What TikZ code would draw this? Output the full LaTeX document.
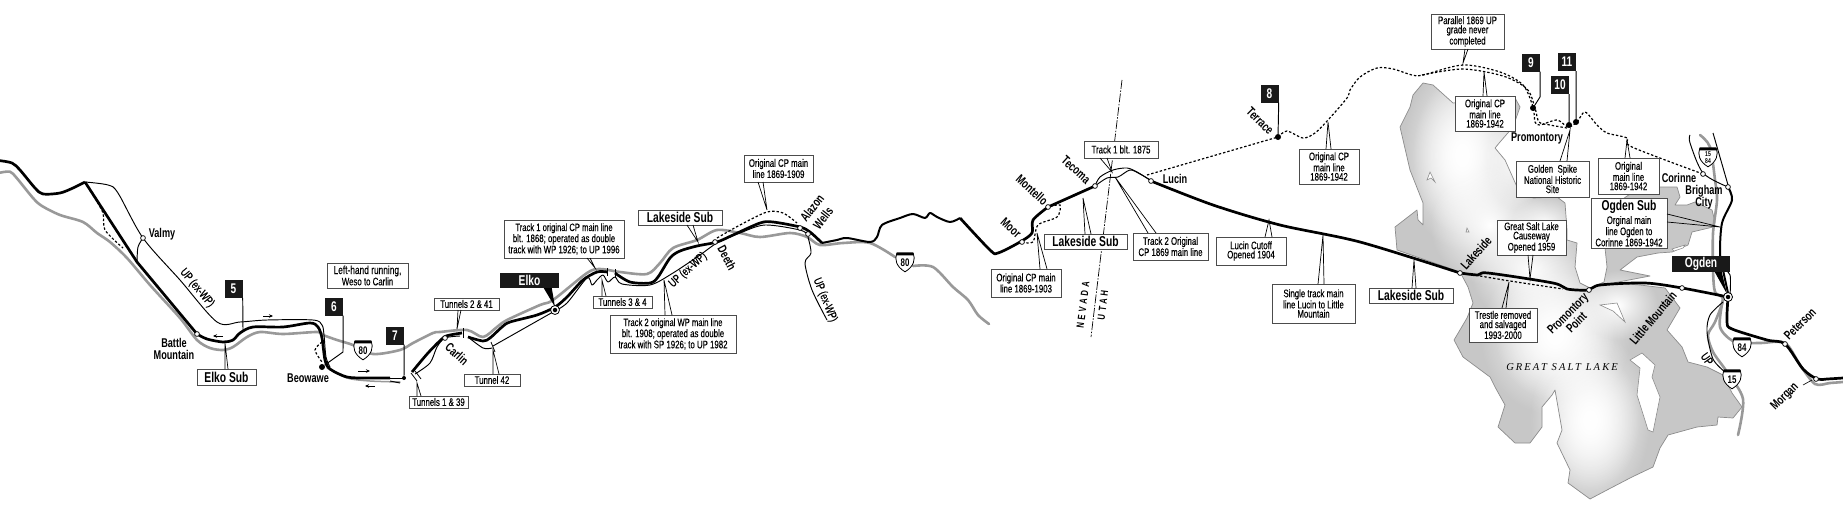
\documentclass[tikz,border=0pt]{standalone}
\usepackage{fontspec}
\usetikzlibrary{arrows.meta,fadings}
\setmainfont{Liberation Sans}
\newfontfamily\cf[FakeStretch=.72,UprightFeatures={FakeBold=.3}]{Liberation Sans}
\newfontfamily\spf[LetterSpace=30,FakeStretch=.72]{Liberation Sans}
\newfontfamily\lakef[LetterSpace=20]{Liberation Serif}
\tikzfading[name=softc, inner color=transparent!0, outer color=transparent!100]
\definecolor{roadgray}{gray}{.6}
\definecolor{lakegray}{gray}{.78}
\tikzset{
  road/.style={draw=roadgray,line width=2.6,line cap=round,line join=round},
  mainl/.style={draw=black,line width=2.7,line join=round},
  medl/.style={draw=black,line width=2,line join=round},
  thinl/.style={draw=black,line width=.95,line join=round},
  dashl/.style={draw=black,line width=1.2,dash pattern=on 2.4pt off 2pt},
  ptr/.style={draw=black,line width=.7},
  note/.style={draw=black!70,fill=white,line width=1,inner sep=0,outer sep=0,align=center,
    font=\cf\fontsize{10.9}{9.2}\selectfont},
  subl/.style={note,font=\cf\bfseries\fontsize{14.3}{15}\selectfont},
  flagb/.style={fill=black!90,text=white,inner sep=0,minimum size=18,font=\cf\bfseries\fontsize{14}{14}\selectfont},
  cityb/.style={fill=black!90,text=white,inner sep=0,font=\cf\bfseries\fontsize{14.2}{15}\selectfont},
  st/.style={circle,draw=black,fill=white,line width=.7,inner sep=0,minimum size=4.8},
  blk/.style={circle,fill=black,inner sep=0,minimum size=6},
  lab/.style={inner sep=0,font=\cf\bfseries\fontsize{12.7}{12.5}\selectfont,align=center},
  smalll/.style={inner sep=0,font=\cf\fontsize{12}{12}\selectfont},
  tipar/.style={draw=black,line width=.6,-{Stealth[length=4pt,width=3.5pt]}},
  shieldp/.pic={
    \path[draw=black,fill=white,line width=.8] (-8.3,-8.5) -- (8.3,-8.5) .. controls (10.5,-3) and (9,4.5) .. (0,9.8) .. controls (-9,4.5) and (-10.5,-3) .. (-8.3,-8.5) -- cycle;
    \fill[black] (-8.3,-9.6) -- (8.3,-9.6) -- (8.6,-6.6) -- (-8.6,-6.6) -- cycle;
  }
}
\newcommand\nbox[7][note]{\node[#1,minimum width={(#5-#3)*1pt},minimum height={(#6-#4)*1pt}] (#2) at ({(#3+#5)/2},{(#4+#6)/2}) {#7};}
\newcommand\ptrdn[4]{\draw[ptr] ([xshift=#2pt]#1.south west) -- (#4) -- ([xshift=#3pt]#1.south west);}
\newcommand\ptrup[4]{\draw[ptr] ([xshift=#2pt]#1.north west) -- (#4) -- ([xshift=#3pt]#1.north west);}
\newcommand\shieldat[4]{\pic at (#2,#3) {shieldp};\node[inner sep=0,align=center,font=\cf\bfseries\fontsize{#4}{6.5}\selectfont] (#1) at (#2,#3+.6) {\shieldtext};}
\newcommand\curve[2]{\draw[#1] plot[smooth,tension=.5] coordinates {#2};}
\begin{document}
\begin{tikzpicture}[x=1pt,y=-1pt]
\useasboundingbox (0,0) rectangle (1843,522);
\fill[white] (0,0) rectangle (1843,522);

% ---------- lake
\def\lakepath{(1413,95) -- (1423,83) -- (1433,85) -- (1453,103) -- (1490,100) -- (1515,98) -- (1520,107) -- (1513,127) -- (1500,142) -- (1495,148) -- (1505,160) -- (1517,187) -- (1533,198) -- (1557,197) -- (1565,203) -- (1567,230) -- (1567,240) -- (1577,243) -- (1575,267) -- (1580,283) -- (1590,288) -- (1604,282) -- (1607,267) -- (1605,248) -- (1600,215) -- (1640,187) -- (1660,187) -- (1677,187) -- (1680,197) -- (1675,205) -- (1687,205) -- (1695,202) -- (1712,210) -- (1715,222) -- (1713,227) -- (1692,232) -- (1688,245) -- (1672,252) -- (1658,253) -- (1637,257) -- (1620,270) -- (1650,276) -- (1613,283) -- (1640,285) -- (1665,288) -- (1680,308) -- (1667,330) -- (1682,347) -- (1688,362) -- (1707,367) -- (1723,375) -- (1732,393) -- (1742,407) -- (1733,418) -- (1718,417) -- (1717,425) -- (1697,427) -- (1668,435) -- (1660,448) -- (1653,467) -- (1632,477) -- (1607,490) -- (1590,499) -- (1568,483) -- (1570,470) -- (1557,443) -- (1562,430) -- (1555,390) -- (1552,395) -- (1542,407) -- (1542,427) -- (1530,443) -- (1515,443) -- (1498,427) -- (1505,405) -- (1495,387) -- (1490,377) -- (1463,357) -- (1454,340) -- (1467,318) -- (1473,303) -- (1468,287) -- (1460,272) -- (1397,250) -- (1395,227) -- (1417,210) -- (1418,220) -- (1423,225) -- (1423,203) -- (1410,170) -- (1400,127) -- (1410,107) -- cycle}
\fill[lakegray] \lakepath;
\begin{scope}
  \clip \lakepath;
  \foreach \cx/\cy/\rx/\ry in {1462/155/60/95,1462/155/50/80,1490/225/60/60,1530/270/60/55,1555/335/75/80,1555/335/60/65,1590/420/60/90,1590/420/50/70,1618/305/40/35,1515/160/30/50,1545/225/35/30}
    {\fill[white,path fading=softc] (\cx,\cy) ellipse [x radius=\rx,y radius=\ry];}
\end{scope}
\draw[black!45,line width=.7,line join=round] \lakepath;
\path[fill=white,draw=black!45,line width=.6] (1630,360) -- (1642,353) -- (1655,365) -- (1652,377) -- (1660,397) -- (1653,432) -- (1648,430) -- (1637,395) -- (1640,368) -- cycle;
\path[fill=white,draw=black!45,line width=.6] (1600,305) -- (1617,303) -- (1625,322) -- (1613,311) -- cycle;
\path[fill=white,draw=black!45,line width=.6] (1672,249) -- (1685,245) -- (1683,248) -- (1674,251) -- cycle;
\path[fill=white,draw=black!45,line width=.6] (1427,180) -- (1430,172) -- (1435,182) -- (1431,178) -- cycle;
\path[fill=white,draw=black!45,line width=.6] (1466,232) -- (1467,228) -- (1469,232) -- cycle;

% ---------- state line
\draw[black,line width=.7,dash pattern=on 9pt off 1.5pt on 1.5pt off 1.5pt] (1122,80) -- (1091,337);

% ---------- highways
\curve{road}{(0,172.7) (10,171.7) (16.7,178) (33,198) (42,206) (60,215) (83,222) (97,233) (110,242) (127,258) (150,285) (180,318) (197,340) (210,348) (223,350) (233,347) (247,337) (260,332) (283,334) (317,332) (323,335) (337,340) (353,345) (373,354) (400,350) (413,343) (433,333) (440,332) (467,330) (483,337) (497,327) (507,320) (540,305) (553,300) (587,273) (600,269) (620,272) (647,274) (660,263) (673,248) (697,240) (717,230) (740,233) (760,237) (790,233) (807,237) (820,245) (843,243) (870,243) (895,257)}
\curve{road}{(913,266) (933,267) (953,287) (968,300) (978,315) (989,324)}
\curve{road,line width=1.5}{(327,368) (347,378) (370,381) (400,382)}
\curve{road}{(1700,135) (1710,147) (1715,180) (1717,200) (1713,233) (1713,270) (1715,292) (1723,299) (1715,322) (1708,335) (1713,352) (1727,372) (1743,399) (1738,435)}
\curve{road}{(1723,299) (1720,327) (1735,342) (1760,343) (1785,343) (1800,365) (1815,384) (1830,383) (1843,382)}

% ---------- thin tracks
\curve{thinl}{(85,182) (108,185) (118,193) (143,238) (180,280) (217,322) (240,322) (267,320) (313,320) (322,325) (324,335) (326,357) (330,367)}
\curve{thinl}{(143,238) (138,247) (137,262)}
\curve{thinl}{(390,381) (400,383)}
\curve{thinl}{(415,374) (430,363) (437,347) (445,338) (460,336)}
\curve{thinl}{(468,337) (483,348) (492,348)}
\draw[thinl] (493,346) -- (553,312);
\curve{thinl}{(553,312) (567,303) (587,278) (592,285) (597,280) (603,275) (608,282) (615,277) (622,284) (650,285) (673,273) (700,255) (717,243) (740,233) (765,225) (800,230) (808,235)}
\curve{thinl}{(808,237) (811,253) (805,263) (812,290) (827,320)}
\curve{thinl}{(1095,186) (1100,177) (1113,170) (1127,168) (1137,172) (1150,180)}
\curve{thinl}{(1095,186) (1107,178) (1118,177) (1130,170) (1140,174) (1150,180)}
\curve{thinl}{(1690,135) (1690,143) (1703,173) (1728,187)}
\curve{thinl}{(1713,133) (1728,185)}
\curve{thinl}{(1723,302) (1710,315) (1707,332) (1713,359) (1725,372)}

% ---------- dashed
\curve{dashl}{(93,195) (103,213) (105,230) (123,248)}
\curve{dashl}{(322,342) (315,350) (322,362)}
\curve{dashl}{(717,238) (740,225) (767,212) (783,213) (797,223)}
\curve{dashl}{(1022,242) (1033,242) (1038,225) (1057,217) (1060,205) (1049,207)}
\draw[dashl] (1147,175) -- (1278,137);
\curve{dashl}{(1278,137) (1287,131) (1303,138) (1315,133) (1328,120) (1347,98) (1350,90) (1360,77) (1377,68) (1393,69) (1412,75) (1423,75) (1463,65) (1500,72) (1523,85) (1533,107) (1535,122) (1540,125) (1557,120) (1568,127) (1577,122) (1585,112) (1597,125) (1607,133) (1627,138) (1632,147) (1703,174)}
\curve{dashl}{(1422,75) (1463,69) (1503,76) (1527,89) (1535,108) (1539,122) (1550,125) (1567,128)}
\curve{dashl}{(1480,276) (1510,281) (1563,289)}

% ---------- main line
\curve{mainl}{(0,160.7) (12,163) (20,170) (35,188) (43,194) (60,193) (73,188) (85,182)}
\draw[mainl] (85,182) -- (137,262) -- (197,334);
\curve{mainl}{(197,334) (207,339) (223,342) (233,340) (240,333) (253,327) (283,327) (310,323) (318,327) (322,338) (325,360) (330,369) (347,377) (367,378) (390,378)}
\draw[mainl,line width=1] (390,378) -- (405,378);
\curve{mainl}{(412,372) (428,353) (443,338) (450,335) (462,333)}
\curve{mainl}{(468,337) (483,341) (490,338) (502,327) (510,322) (537,315) (555,307) (567,297) (583,280) (597,272) (607,272)}
\curve{mainl}{(615,273) (630,282) (650,283) (658,277) (670,258) (680,251) (697,246) (717,242) (733,235) (760,223) (773,222) (800,227) (810,232) (822,243)}
\curve{medl}{(822,243) (837,240) (847,238) (870,242) (877,237) (882,225) (900,218) (913,214) (925,218) (930,213) (937,217) (950,222) (960,218)}
\curve{mainl}{(960,218) (990,250) (998,253) (1020,242) (1032,233) (1033,220) (1048,207)}
\draw[mainl] (1048,207) -- (1095,186);
\curve{mainl}{(1151,181) (1213,205) (1280,225) (1360,242) (1460,273)}
\curve{mainl}{(1460,273) (1478,275) (1488,273) (1553,283) (1567,289) (1588,290) (1600,285) (1645,283) (1682,288) (1728,297)}
\curve{medl}{(1728,187) (1732,200) (1722,223) (1720,253) (1723,270) (1728,293)}
\curve{thinl}{(1722,268) (1730,275) (1730,295)}
\curve{mainl}{(1728,297) (1727,322) (1732,329) (1767,340) (1785,344) (1803,369) (1817,379) (1827,379) (1843,378)}

% ---------- tunnel ticks
\draw[black,line width=.8] (411,373) -- (417,381) (415,371) -- (421,379);
\draw[black,line width=.8] (463,328) -- (463,338);
\draw[black,line width=.8] (491,342) -- (495,352);
\draw[black,line width=.8] (607,268) -- (607,276) (615,269) -- (615,277);

% ---------- direction arrows
\draw[tipar] (263,316) -- (273,316);
\draw[tipar] (223,336) -- (213,336);
\draw[tipar] (358,371) -- (370,371);
\draw[tipar] (375,386) -- (365,386);

% ---------- shields
\def\shieldtext{80}\shieldat{sa}{363}{350}{11}
\def\shieldtext{80}\shieldat{sb}{905}{262}{11}
\def\shieldtext{84}\shieldat{sc}{1742}{347}{11}
\def\shieldtext{15}\shieldat{sd}{1732}{379}{11}
\def\shieldtext{15\\84}\shieldat{se}{1708}{157}{7}

% ---------- pointer tips
\coordinate (tElkoSub) at (225,343);
\coordinate (tT139) at (417,383);
\coordinate (tT241) at (457,329);
\coordinate (tT42) at (493,350);
\coordinate (tT34) at (602,280);
\coordinate (tTk1) at (595,268);
\coordinate (tTk2) at (664,280);
\coordinate (tLk1) at (698,242);
\coordinate (tCP09) at (767,210);
\coordinate (tCP03) at (1037,233);
\coordinate (tLk2) at (1083,198);
\coordinate (tBlt) at (1112,172);
\coordinate (tOrig) at (1115,177);
\coordinate (tCut) at (1269,220);
\coordinate (tSing) at (1323,235);
\coordinate (tCP42a) at (1328,122);
\coordinate (tLk3) at (1414,260);
\coordinate (tTres) at (1509,282);
\coordinate (tCau) at (1530,279);
\coordinate (tCP42b) at (1484,72);
\coordinate (tPar) at (1463,63);
\coordinate (tGold) at (1570,130);
\coordinate (tMain) at (1627,140);
\coordinate (tOgd) at (1720,227);
\coordinate (tElko) at (555,307);
\coordinate (tOgden) at (1727,294);
\coordinate (t5) at (243,330);
\coordinate (b6) at (343,352);
\coordinate (b9) at (1540,97);

% ---------- boxes
\nbox[subl]{elkosub}{197}{369}{256}{385}{Elko Sub}
\nbox{lefthand}{327}{263}{408}{288}{\fontsize{11.6}{9.2}\selectfont Left-hand running,\\Weso to Carlin}
\nbox{t139}{409}{396}{468}{408}{Tunnels 1 \& 39}
\nbox{t241}{434}{298}{499}{310}{Tunnels 2 \& 41}
\nbox{t42}{464}{374}{520}{386}{Tunnel 42}
\nbox{t34}{593}{296}{652}{308}{Tunnels 3 \& 4}
\nbox{track1}{504}{220}{624}{258}{\fontsize{10.6}{10.2}\selectfont Track 1 original CP main line\\blt. 1868; operated as double\\track with WP 1926; to UP 1996}
\nbox{track2}{610}{315}{736}{353}{\fontsize{10.6}{10.2}\selectfont Track 2 original WP main line\\blt. 1908; operated as double\\track with SP 1926; to UP 1982}
\nbox[subl]{lakesub1}{638}{210}{722}{225}{Lakeside Sub}
\nbox{cp09}{744}{155}{813}{182}{Original CP main\\line 1869-1909}
\nbox{cp03}{991}{269}{1061}{297}{Original CP main\\line 1869-1903}
\nbox[subl]{lakesub2}{1044}{234}{1127}{249}{Lakeside Sub}
\nbox{blt}{1084}{141}{1158}{158}{Track 1 blt. 1875}
\nbox{origcp}{1133}{233}{1208}{260}{Track 2 Original\\CP 1869 main line}
\nbox{cutoff}{1216}{237}{1286}{265}{Lucin Cutoff\\Opened 1904}
\nbox{single}{1272}{284}{1355}{323}{Single track main\\line Lucin to Little\\Mountain}
\nbox{cp42a}{1299}{149}{1359}{184}{Original CP\\main line\\1869-1942}
\nbox[subl]{lakesub3}{1369}{288}{1453}{303}{Lakeside Sub}
\nbox{trestle}{1469}{308}{1537}{342}{Trestle removed\\and salvaged\\1993-2000}
\nbox{causeway}{1497}{220}{1566}{255}{Great Salt Lake\\Causeway\\Opened 1959}
\nbox{cp42b}{1455}{96}{1515}{131}{Original CP\\main line\\1869-1942}
\nbox{parallel}{1431}{14}{1504}{49}{Parallel 1869 UP\\grade never\\completed}
\nbox{golden}{1516}{161}{1589}{197}{Golden\ \ Spike\\National Historic\\Site}
\nbox{mainbox}{1598}{158}{1659}{194}{Original\\main line\\1869-1942}
\nbox{ogdensub}{1591}{198}{1667}{248}{{\cf\bfseries\fontsize{14.3}{15}\selectfont Ogden Sub}\\[2pt]Orginal main\\line Ogden to\\Corinne 1869-1942}

% ---------- pointers
\ptrup{elkosub}{28}{31}{tElkoSub}
\ptrup{t139}{8}{12}{tT139}
\ptrdn{t241}{24}{27}{tT241}
\ptrup{t42}{29}{35}{tT42}
\ptrup{t34}{9}{13}{tT34}
\ptrdn{track1}{83}{86}{tTk1}
\ptrup{track2}{55}{62}{tTk2}
\ptrdn{lakesub1}{49}{55}{tLk1}
\ptrdn{cp09}{14}{19}{tCP09}
\ptrup{cp03}{49}{56}{tCP03}
\ptrup{lakesub2}{41}{47}{tLk2}
\ptrdn{blt}{16}{23}{tBlt}
\ptrup{origcp}{15}{23}{tOrig}
\ptrup{cutoff}{49}{56}{tCut}
\ptrup{single}{46}{52}{tSing}
\ptrup{cp42a}{27}{32}{tCP42a}
\ptrup{lakesub3}{43}{47}{tLk3}
\ptrup{trestle}{33}{37}{tTres}
\ptrdn{causeway}{31}{36}{tCau}
\ptrup{cp42b}{28}{32}{tCP42b}
\ptrdn{parallel}{34}{37}{tPar}
\ptrup{golden}{44}{51}{tGold}
\ptrup{mainbox}{27}{32}{tMain}
\draw[ptr] ([yshift=-16pt]ogdensub.north east) -- (tOgd) -- ([yshift=-24pt]ogdensub.north east);

% ---------- cities
\nbox[cityb]{elko}{500}{273}{559}{288}{Elko}
\fill[black] ([xshift=44pt]elko.south west) -- (tElko) -- ([xshift=52pt]elko.south west) -- cycle;
\nbox[cityb]{ogden}{1672}{256}{1730}{272}{Ogden}
\fill[black] ([xshift=43pt]ogden.south west) -- (tOgden) -- ([xshift=50pt]ogden.south west) -- cycle;

% ---------- stations
\node[st] (valmy) at (143,238) {};
\node[st] (battle) at (197,334) {};
\node[st] (carlin) at (445,338) {};
\node[st] (deeth) at (715,242) {};
\node[st] (alazon) at (800,228) {};
\node[st] (wells) at (808,234) {};
\node[st] (moor) at (1022,242) {};
\node[st] (montello) at (1048,207) {};
\node[st] (tecoma) at (1095,186) {};
\node[st] (lucin) at (1151,181) {};
\node[st] (lakeside) at (1460,273) {};
\node[st] (prompt) at (1589,290) {};
\node[st] (little) at (1682,288) {};
\node[st] (corinne) at (1703,174) {};
\node[st] (brigham) at (1728,187) {};
\node[st] (peterson) at (1785,344) {};
\node[st] (morganst) at (1816,379) {};
\node[blk] (beowawe) at (322,367) {};
\node[blk,minimum size=4] (tun7) at (404,378) {};
\node[blk] (terrace) at (1278,137) {};
\node[blk] (prom9) at (1533,108) {};
\node[blk] (prom10) at (1569,125) {};
\node[blk] (prom11) at (1576,122) {};
\node[circle,draw=black,fill=white,line width=.8,inner sep=0,minimum size=9] (elkost) at (555,310) {};
\node[blk,minimum size=4.5] (elkodot) at (555,310) {};
\node[circle,draw=black,fill=white,line width=.8,inner sep=0,minimum size=9] (ogdenst) at (1728,297) {};
\node[blk,minimum size=4.5] (ogdendot) at (1728,297) {};

% ---------- flags
\node[flagb] (n5) at (233.5,289) {5};
\node[flagb] (n6) at (334,306.5) {6};
\node[flagb] (n7) at (395,335.5) {7};
\node[flagb] (n8) at (1269.5,93.5) {8};
\node[flagb] (n9) at (1531,62.5) {9};
\node[flagb] (n10) at (1560,85) {10};
\node[flagb] (n11) at (1567,62) {11};
\draw[thinl] (n5.south east) -- (t5);
\draw[thinl] (n6.south east) -- (b6) -- (beowawe);
\draw[thinl] (n7.south east) -- (tun7);
\draw[thinl] (n8.south east) -- (terrace);
\draw[thinl] (n9.south east) -- (b9) -- (prom9);
\draw[thinl] (n10.south east) -- (prom10);
\draw[thinl] (n11.south east) -- (prom11);

% ---------- labels
\node[lab] (lValmy) at (162,234) {Valmy};
\node[lab] (lBattle) at (174,349) {Battle\\Mountain};
\node[lab] (lBeo) at (308,378) {Beowawe};
\node[lab,rotate=-42] (lCarlin) at (457,354) {Carlin};
\node[lab,rotate=-62] (lDeeth) at (727,258) {Deeth};
\node[lab,rotate=52] (lAlazon) at (812,208) {Alazon};
\node[lab,rotate=52] (lWells) at (823,218) {Wells};
\node[lab,rotate=-42] (lMoor) at (1011,228) {Moor};
\node[lab,rotate=-42] (lMontello) at (1032,190) {Montello};
\node[lab,rotate=-42] (lTecoma) at (1076,170) {Tecoma};
\node[lab] (lLucin) at (1175,179) {Lucin};
\node[lab,rotate=-45] (lTerrace) at (1260,121) {Terrace};
\node[lab] (lProm) at (1537,138) {Promontory};
\node[lab] (lCorinne) at (1679,178) {Corinne};
\node[lab] (lBrigham) at (1704,197) {Brigham\\City};
\node[lab,rotate=48] (lLakeside) at (1476,253) {Lakeside};
\node[lab,rotate=45] (lPP) at (1572,318) {Promontory\\Point};
\node[lab,rotate=50] (lLM) at (1653,318) {Little Mountain};
\node[lab,rotate=45] (lPet) at (1800,324) {Peterson};
\node[lab,rotate=45] (lMor) at (1785,397) {Morgan};
\coordinate (mora) at (1803,385);
\coordinate (morb) at (1812,380);
\draw[thinl,line width=.6] (mora) -- (morb);
\node[smalll,rotate=-50] (up1) at (197,288) {UP (ex-WP)};
\node[smalll,rotate=42] (up2) at (688,270) {UP (ex-WP)};
\node[smalll,rotate=-68] (up3) at (825,300) {UP (ex-WP)};
\node[smalll,rotate=-55] (up4) at (1707,359) {UP};
\node[inner sep=0,rotate=83,font=\spf\bfseries\fontsize{10.5}{11}\selectfont] (nev) at (1083,305) {NEVADA};
\node[inner sep=0,rotate=83,font=\spf\bfseries\fontsize{10.5}{11}\selectfont] (utah) at (1103,305) {UTAH};
\node[inner sep=0,font=\lakef\itshape\fontsize{10.5}{12}\selectfont] (gsl) at (1562,367) {GREAT SALT LAKE};
\end{tikzpicture}
\end{document}
